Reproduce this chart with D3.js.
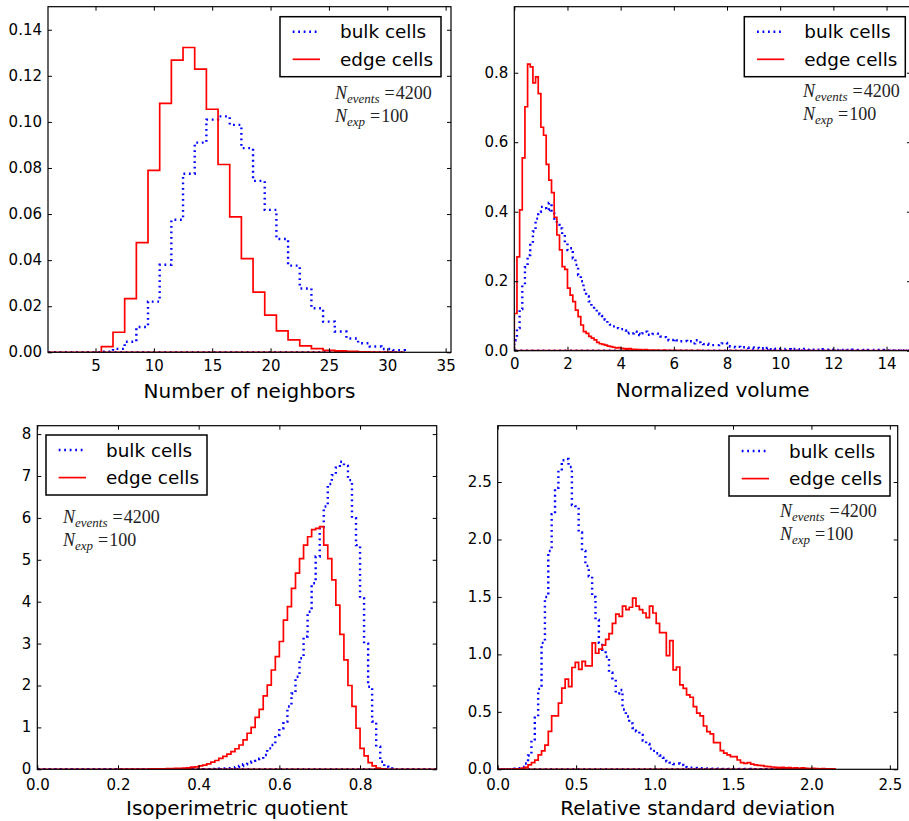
<!DOCTYPE html>
<html><head><meta charset="utf-8">
<script src="https://cdn.jsdelivr.net/npm/d3@7"></script>
<style>
body{margin:0;background:#fff;}
svg{display:block;background:#fff;}
</style></head><body>
<svg id="chart" width="909" height="821"></svg>
<script>
// ---------------- DATA ----------------
const seriesNames = ["bulk cells", "edge cells"];
const annotationLines = [["N", "events", "4200"], ["N", "exp", "100"]];

// Panel 1: Number of neighbors (unit bins centred on integers)
const neighborsCenters = [1,2,3,4,5,6,7,8,9,10,11,12,13,14,15,16,17,18,19,20,21,22,23,24,25,26,27,28,29,30,31];
const neighborsBulk = [0,0,0,0,0,0.0003,0.0015,0.0046,0.011,0.022,0.038,0.0575,0.0775,0.091,0.101,0.1024,0.0987,0.0886,0.0744,0.0618,0.0492,0.0376,0.0277,0.0191,0.0133,0.009,0.006,0.0039,0.0025,0.0014,0.0009];
const neighborsEdge = [0,0,0,0,0,0.0025,0.0087,0.0233,0.0476,0.079,0.108,0.1268,0.1323,0.1229,0.1055,0.0815,0.0588,0.0407,0.0261,0.0161,0.0093,0.0054,0.0028,0.0016,0.0009,0.0006,0.0004,0.0002,0.0001,0.0001,0];
const neighborsXTicks = [5,10,15,20,25,30,35];
const neighborsYTicks = [0,0.02,0.04,0.06,0.08,0.10,0.12,0.14];

// Panel 2: Normalized volume (bin width 0.1, from 0)
const volumeBinWidth = 0.1;
const volumeBulk = [
0.03,0.065,0.12,0.19,0.24,0.275,0.31,0.343,0.38,0.4,
0.414,0.41,0.405,0.425,0.396,0.38,0.362,0.352,0.333,0.309,
0.29,0.295,0.266,0.247,0.218,0.2,0.175,0.156,0.142,0.127,
0.12,0.112,0.105,0.1,0.09,0.08,0.075,0.07,0.069,0.065,
0.062,0.058,0.05,0.052,0.05,0.055,0.048,0.045,0.05,0.055,
0.046,0.045,0.048,0.049,0.043,0.041,0.039,0.036,0.03,0.031,
0.033,0.03,0.027,0.027,0.028,0.026,0.027,0.021,0.03,0.024,
0.022,0.019,0.02,0.017,0.016,0.016,0.016,0.019,0.021,0.022,
0.013,0.012,0.011,0.01,0.011,0.009,0.01,0.009,0.008,0.009,
0.007,0.008,0.006,0.007,0.005,0.008,0.004,0.006,0.005,0.004,
0.005,0.004,0.005,0.004,0.003,0.005,0.004,0.003,0.004,0.005,
0.003,0.004,0.003,0.004,0.003,0.002,0.004,0.003,0.002,0.003,
0.003,0.002,0.003,0.002,0.003,0.002,0.002,0.003,0.002,0.002,
0.002,0.002,0.001,0.002,0.002,0.001,0.002,0.001,0.002,0.001,
0.001,0.002,0.001,0.001,0.001,0.002,0.001,0.001,0.001,0.001];
const volumeEdge = [
0.107,0.27,0.405,0.555,0.702,0.825,0.817,0.771,0.788,0.74,
0.643,0.62,0.536,0.491,0.455,0.384,0.333,0.29,0.242,0.234,
0.18,0.16,0.141,0.117,0.098,0.074,0.055,0.05,0.041,0.036,
0.031,0.024,0.02,0.018,0.016,0.013,0.012,0.01,0.008,0.009,
0.007,0.006,0.005,0.006,0.004,0.004,0.003,0.003,0.002,0.003,
0.002,0.002,0.001,0.002,0.001,0.001,0.002,0.001,0.001,0.001,
0.001,0.001,0.001,0.0005,0.001,0.0005,0.001,0.0005,0.0005,0.001,
0.0005,0.0005,0.0005,0.0005,0.0005,0.0005,0.0005,0.0005,0.0005,0.0005,
0.0005,0.0005,0.0005,0.0005,0.0005,0.0005,0.0005,0.0005,0.0005,0.0005,
0.0005,0.0005,0.0005,0.0005,0.0005,0.0005,0.0005,0.0005,0.0005,0.0005,
0.0003,0.0003,0.0003,0.0003,0.0003,0.0003,0.0003,0.0003,0.0003,0.0003,
0.0003,0.0003,0.0003,0.0003,0.0003,0.0003,0.0003,0.0003,0.0003,0.0003,
0.0003,0.0003,0.0003,0.0003,0.0003,0.0003,0.0003,0.0003,0.0003,0.0003,
0.0003,0.0003,0.0003,0.0003,0.0003,0.0003,0.0003,0.0003,0.0003,0.0003,
0.0003,0.0003,0.0003,0.0003,0.0003,0.0003,0.0003,0.0003,0.0003,0.0003];
const volumeXTicks = [0,2,4,6,8,10,12,14];
const volumeYTicks = [0,0.2,0.4,0.6,0.8];

// Panel 3: Isoperimetric quotient (bin width 0.01, from 0)
const isoBinWidth = 0.01;
const isoBulk = [
0,0,0,0,0,0,0,0,0,0,
0,0,0,0,0,0,0,0,0,0,
0,0,0,0,0,0,0,0,0,0,
0,0,0,0,0,0.001,0.001,0.001,0.001,0.001,
0.002,0.003,0.005,0.007,0.01,0.012,0.018,0.025,0.035,0.05,
0.08,0.12,0.16,0.18,0.2,0.25,0.34,0.5,0.58,0.82,
0.98,1.14,1.5,1.81,2.21,2.65,3.17,3.76,4.44,5.08,
5.75,6.27,6.81,7.02,7.2,7.34,7.24,6.9,5.99,5.35,
4.08,3.0,1.97,1.14,0.54,0.18,0.06,0.02,0.005,0,
0,0,0,0,0,0,0,0,0,0];
const isoEdge = [
0,0,0,0,0,0,0,0,0,0,
0,0,0,0,0,0,0,0,0,0,
0.002,0.002,0.002,0.003,0.003,0.005,0.005,0.007,0.008,0.01,
0.01,0.012,0.015,0.015,0.02,0.025,0.03,0.035,0.05,0.06,
0.08,0.1,0.13,0.17,0.21,0.26,0.31,0.36,0.42,0.49,
0.58,0.7,0.86,1.0,1.24,1.43,1.75,2.01,2.37,2.69,
3.05,3.56,3.88,4.32,4.68,5.03,5.35,5.55,5.72,5.75,
5.79,5.35,5.03,4.52,3.92,3.22,2.61,2.0,1.5,0.98,
0.5,0.32,0.16,0.08,0.03,0.01,0.005,0,0,0,
0,0,0,0,0,0,0,0,0,0];
const isoXTicks = [0,0.2,0.4,0.6,0.8];
const isoYTicks = [0,1,2,3,4,5,6,7,8];

// Panel 4: Relative standard deviation (bin width 0.0215, from 0)
const rsdBinWidth = 0.0215;
const rsdBulk = [
0,0,0,0,0,0.005,0.01,0.02,0.05,0.12,
0.25,0.45,0.7,1.1,1.5,1.9,2.22,2.45,2.6,2.69,
2.7,2.63,2.3,2.29,2.06,1.9,1.77,1.68,1.5,1.3,
1.1,1.04,0.98,0.84,0.78,0.66,0.69,0.52,0.46,0.4,
0.36,0.33,0.3,0.25,0.22,0.18,0.16,0.14,0.12,0.1,
0.07,0.058,0.046,0.05,0.038,0.03,0.02,0.015,0.012,0.01,
0.009,0.008,0.007,0.006,0.005,0.005,0.004,0.004,0.003,0.003,
0.003,0.002,0.002,0.002,0.002,0.001,0.001,0.001,0.001,0.001,
0.001,0.001,0.001,0.001,0.001,0,0,0,0,0,
0,0,0,0,0,0,0,0,0,0];
const rsdEdge = [
0.001,0.001,0.001,0.001,0.002,0.003,0.005,0.01,0.017,0.038,
0.058,0.08,0.125,0.16,0.21,0.33,0.465,0.465,0.575,0.706,
0.784,0.72,0.886,0.93,0.87,0.94,0.9,0.9,1.1,1.01,
1.045,1.08,1.13,1.18,1.27,1.35,1.33,1.42,1.39,1.41,
1.49,1.42,1.39,1.36,1.32,1.42,1.36,1.27,1.19,1.19,
0.99,1.12,0.865,0.89,0.735,0.705,0.647,0.627,0.546,0.488,
0.465,0.377,0.328,0.308,0.232,0.232,0.163,0.14,0.125,0.11,
0.11,0.081,0.058,0.052,0.058,0.045,0.038,0.035,0.032,0.025,
0.023,0.02,0.017,0.015,0.017,0.012,0.014,0.01,0.012,0.009,
0.012,0.008,0.007,0.008,0.006,0.005,0.006,0.004,0.004,0.003];
const rsdXTicks = [0,0.5,1.0,1.5,2.0,2.5];
const rsdYTicks = [0,0.5,1.0,1.5,2.0,2.5];

// ---------------- DRAWING ----------------
const svg = d3.select("#chart");
const BLUE = "#0000ff", RED = "#ff0000";

function edgesFromCenters(centers) {
  return centers.map(c => [c - 0.5, c + 0.5]);
}
function edgesFromWidth(n, w) {
  return d3.range(n).map(i => [i * w, (i + 1) * w]);
}

function drawPanel(p, idx) {
  const g = svg.append("g");
  const x = d3.scaleLinear().domain(p.xDomain).range([p.left, p.right]);
  const y = d3.scaleLinear().domain(p.yDomain).range([p.bottom, p.top]);

  const clipId = "clip" + idx;
  svg.append("clipPath").attr("id", clipId).append("rect")
    .attr("x", p.left).attr("y", p.top)
    .attr("width", p.right - p.left).attr("height", p.bottom - p.top);

  const line = d3.line().x(d => x(d[0])).y(d => y(d[1]));
  const plot = g.append("g").attr("clip-path", `url(#${clipId})`);
  const series = [
    {vals: p.bulk, color: BLUE, dash: "1.8,3.7", width: 2.4},
    {vals: p.edge, color: RED, dash: null, width: 1.7}
  ];
  series.forEach(s => {
    const pts = [[p.edges[0][0], 0]];
    s.vals.forEach((v, i) => {
      pts.push([p.edges[i][0], v]);
      pts.push([p.edges[i][1], v]);
    });
    pts.push([p.edges[p.edges.length - 1][1], 0]);
    plot.append("path")
      .attr("d", line(pts) + "Z")
      .attr("fill", "none")
      .attr("stroke", s.color)
      .attr("stroke-width", s.width)
      .attr("stroke-dasharray", s.dash)
      .attr("stroke-linejoin", "miter");
  });

  const styleAxis = sel => {
    sel.select(".domain").remove();
    sel.selectAll(".tick line").attr("stroke", "#000").attr("stroke-width", 1);
    sel.selectAll("text").attr("fill", "#000")
      .attr("font-family", "'DejaVu Sans', sans-serif").attr("font-size", 15);
  };
  g.append("g").attr("transform", `translate(0,${p.bottom})`)
    .call(d3.axisBottom(x).tickValues(p.xTicks).tickFormat(p.xFmt)
      .tickSizeInner(-4).tickSizeOuter(0).tickPadding(p.xPad))
    .call(styleAxis);
  g.append("g").attr("transform", `translate(0,${p.top})`)
    .call(d3.axisTop(x).tickValues(p.xTicks).tickFormat("")
      .tickSizeInner(-4).tickSizeOuter(0))
    .call(styleAxis);
  g.append("g").attr("transform", `translate(${p.left},0)`)
    .call(d3.axisLeft(y).tickValues(p.yTicks).tickFormat(p.yFmt)
      .tickSizeInner(-4).tickSizeOuter(0).tickPadding(6))
    .call(styleAxis)
    .call(sel => sel.selectAll("text").attr("dy", "0.3em"));
  g.append("g").attr("transform", `translate(${p.right},0)`)
    .call(d3.axisRight(y).tickValues(p.yTicks).tickFormat("")
      .tickSizeInner(-4).tickSizeOuter(0))
    .call(styleAxis);

  g.append("rect")
    .attr("x", p.left).attr("y", p.top)
    .attr("width", p.right - p.left).attr("height", p.bottom - p.top)
    .attr("fill", "none").attr("stroke", "#000").attr("stroke-width", 1.2);

  // axis label
  g.append("text")
    .attr("x", (p.left + p.right) / 2).attr("y", p.bottom + 46)
    .attr("text-anchor", "middle")
    .attr("font-family", "'DejaVu Sans', sans-serif").attr("font-size", 20)
    .attr("fill", "#000").text(p.xLabel);

  // legend
  const lg = g.append("g").attr("transform", `translate(${p.legend[0]},${p.legend[1]})`);
  lg.append("rect").attr("x", 0).attr("y", 0).attr("width", 161).attr("height", 60)
    .attr("fill", "#fff").attr("stroke", "#000").attr("stroke-width", 1.5);
  const rows = [15, 42.6];
  series.forEach((s, i) => {
    lg.append("line").attr("x1", 12.7).attr("x2", 40).attr("y1", rows[i]).attr("y2", rows[i])
      .attr("stroke", s.color).attr("stroke-width", s.width).attr("stroke-dasharray", s.dash);
    lg.append("text").attr("x", 60).attr("y", rows[i] + 6.6)
      .attr("font-family", "'DejaVu Sans', sans-serif").attr("font-size", 18.4)
      .attr("fill", "#000").text(seriesNames[i]);
  });

  // annotation
  annotationLines.forEach((a, i) => {
    const t = g.append("text")
      .attr("x", p.note[0]).attr("y", p.note[1] + i * 22.5)
      .attr("font-family", "'Liberation Serif', 'DejaVu Serif', serif")
      .attr("fill", "#222");
    t.append("tspan").attr("font-style", "italic").attr("font-size", 18).text(a[0]);
    t.append("tspan").attr("font-style", "italic").attr("font-size", 13).attr("dy", 4).text(a[1]);
    t.append("tspan").attr("font-size", 18).attr("dy", -4).attr("dx", 5).text("=");
    t.append("tspan").attr("font-size", 18).attr("dx", 1).text(a[2]);
  });
}

const panels = [
  {left: 48, right: 451, top: 6.7, bottom: 352.3, xDomain: [0.93, 35.46], yDomain: [0, 0.15],
   edges: edgesFromCenters(neighborsCenters), bulk: neighborsBulk, edge: neighborsEdge,
   xTicks: neighborsXTicks, yTicks: neighborsYTicks, xFmt: d3.format("d"), yFmt: d3.format(".2f"),
   xPad: 8, xLabel: "Number of neighbors", legend: [280, 16.7], note: [335, 99]},
  {left: 514.3, right: 911, top: 6.7, bottom: 350.7, xDomain: [0, 14.92], yDomain: [0, 0.99],
   edges: edgesFromWidth(volumeBulk.length, volumeBinWidth), bulk: volumeBulk, edge: volumeEdge,
   xTicks: volumeXTicks, yTicks: volumeYTicks, xFmt: d3.format("d"), yFmt: d3.format(".1f"),
   xPad: 8, xLabel: "Normalized volume", legend: [744.3, 16.7], note: [803, 97]},
  {left: 37.3, right: 436.7, top: 425.7, bottom: 769.3, xDomain: [0, 0.99], yDomain: [0, 8.2],
   edges: edgesFromWidth(isoBulk.length, isoBinWidth), bulk: isoBulk, edge: isoEdge,
   xTicks: isoXTicks, yTicks: isoYTicks, xFmt: d3.format(".1f"), yFmt: d3.format("d"),
   xPad: 10, xLabel: "Isoperimetric quotient", legend: [46, 435], note: [63, 523]},
  {left: 497.7, right: 897.7, top: 425.7, bottom: 769.3, xDomain: [0, 2.55], yDomain: [0, 2.99],
   edges: edgesFromWidth(rsdBulk.length, rsdBinWidth), bulk: rsdBulk, edge: rsdEdge,
   xTicks: rsdXTicks, yTicks: rsdYTicks, xFmt: d3.format(".1f"), yFmt: d3.format(".1f"),
   xPad: 10, xLabel: "Relative standard deviation", legend: [729, 436], note: [780, 517]}
];
panels.forEach((p, i) => drawPanel(p, i));
</script>
</body></html>
